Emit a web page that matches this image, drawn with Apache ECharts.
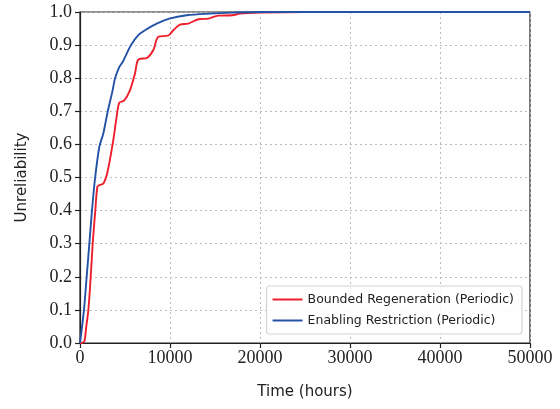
<!DOCTYPE html>
<html>
<head>
<meta charset="utf-8">
<script src="https://cdn.jsdelivr.net/npm/echarts@6/dist/echarts.min.js"></script>
<style>
  html, body { margin: 0; padding: 0; background: #fff; }
  #chart { width: 560px; height: 409px; }
</style>
</head>
<body>
<div id="chart"></div>
<script>
// Unreliability over time
const regenTime = [0, 300, 500, 700, 930, 1190, 1410, 1700, 1930, 2150, 2600, 3040, 3700, 4070, 4370, 4890, 5560, 6110, 6480, 7480, 8150, 8700, 9810, 10370, 11110, 12040, 13150, 14260, 15370, 16900, 17800, 20000, 25000, 30000, 40000, 50000];
const regenValue = [0, 0.001, 0.006, 0.05, 0.1, 0.2, 0.3, 0.4, 0.472, 0.477, 0.482, 0.515, 0.613, 0.683, 0.726, 0.732, 0.764, 0.814, 0.856, 0.862, 0.885, 0.925, 0.929, 0.945, 0.962, 0.965, 0.978, 0.98, 0.989, 0.99, 0.995, 0.998, 1.0, 1.0, 1.0, 1.0];

const restrictTime = [0, 440, 740, 1040, 1330, 1670, 2150, 2590, 3070, 3630, 3890, 4370, 4740, 5670, 6480, 7220, 8520, 9920, 11850, 14440, 17000, 20000, 30000, 40000, 50000];
const restrictValue = [0, 0.1, 0.2, 0.3, 0.4, 0.497, 0.593, 0.633, 0.698, 0.764, 0.799, 0.834, 0.849, 0.9, 0.93, 0.945, 0.965, 0.98, 0.99, 0.995, 0.998, 1.0, 1.0, 1.0, 1.0];

const seriesNames = ['Bounded Regeneration (Periodic)', 'Enabling Restriction (Periodic)'];
const seriesColors = ['#ee1f2d', '#2352a6'];

const zip = (xs, ys) => xs.map((x, i) => [x, ys[i]]);

const chart = echarts.init(document.getElementById('chart'));

const serif = 'Liberation Serif';
const sans = 'DejaVu Sans';

chart.setOption({
    animation: false,
    grid: {
        left: 80, right: 30, top: 12, bottom: 66,
        show: true, borderColor: '#222', borderWidth: 1.2
    },
    legend: {
        orient: 'vertical',
        right: 38, bottom: 75,
        data: seriesNames,
        icon: 'rect',
        itemWidth: 30, itemHeight: 2,
        itemGap: 8,
        padding: [7, 8, 7, 6],
        backgroundColor: 'rgba(255,255,255,0.85)',
        borderColor: '#d4d4d4', borderWidth: 1.2, borderRadius: 3,
        textStyle: { fontFamily: sans, fontSize: 12.5, color: '#222' }
    },
    xAxis: {
        type: 'value',
        min: 0, max: 50000, interval: 10000,
        name: 'Time (hours)',
        nameLocation: 'middle', nameGap: 42,
        nameTextStyle: { fontFamily: sans, fontSize: 15, color: '#222' },
        axisLine: { lineStyle: { color: '#222', width: 1.2 } },
        axisTick: { show: true, inside: false, length: 5, lineStyle: { color: '#222', width: 1.2 } },
        axisLabel: { fontFamily: serif, fontSize: 18, color: '#222', margin: 6, formatter: v => String(v) },
        splitLine: { show: true, lineStyle: { color: '#bbbbbb', type: [2, 3], width: 1 } }
    },
    yAxis: {
        type: 'value',
        min: 0, max: 1, interval: 0.1,
        name: 'Unreliability',
        nameLocation: 'middle', nameGap: 50,
        nameTextStyle: { fontFamily: sans, fontSize: 15, color: '#222' },
        axisLine: { show: true, lineStyle: { color: '#222', width: 1.2 } },
        axisTick: { show: true, inside: false, length: 5, lineStyle: { color: '#222', width: 1.2 } },
        axisLabel: {
            fontFamily: serif, fontSize: 18, color: '#222', margin: 8,
            formatter: v => v.toFixed(1)
        },
        splitLine: { show: true, lineStyle: { color: '#bbbbbb', type: [2, 3], width: 1 } }
    },
    series: [
        {
            name: seriesNames[0],
            type: 'line',
            data: zip(regenTime, regenValue),
            showSymbol: false, symbol: 'none',
            smooth: 0.3,
            lineStyle: { color: seriesColors[0], width: 1.9 },
            itemStyle: { color: seriesColors[0] },
            z: 3
        },
        {
            name: seriesNames[1],
            type: 'line',
            data: zip(restrictTime, restrictValue),
            showSymbol: false, symbol: 'none',
            smooth: 0.3,
            lineStyle: { color: seriesColors[1], width: 1.9 },
            itemStyle: { color: seriesColors[1] },
            z: 4
        }
    ]
});
</script>
</body>
</html>
